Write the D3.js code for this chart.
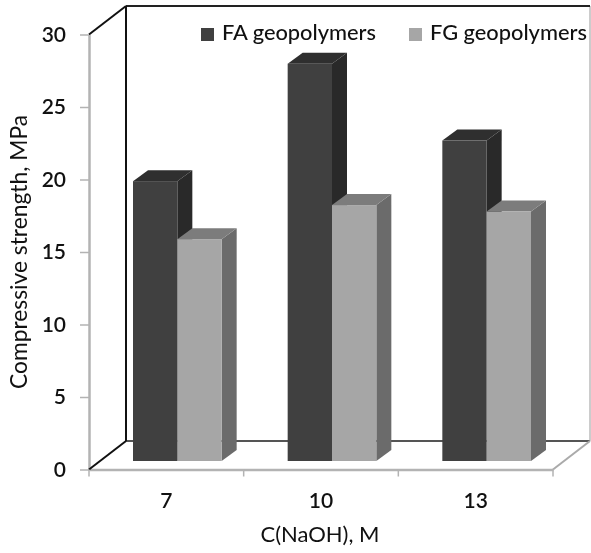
<!DOCTYPE html>
<html>
<head>
<meta charset="utf-8">
<script src="https://cdn.jsdelivr.net/npm/d3@7"></script>
<style>
  html, body { margin: 0; padding: 0; background: #fff; }
  svg { display: block; filter: blur(0.4px); }
  text { font-family: Lato, "Open Sans", sans-serif; fill: #111; }
</style>
</head>
<body>
<div id="chart"></div>
<script>
var categories = ["7", "10", "13"];
var seriesNames = ["FA geopolymers", "FG geopolymers"];
var faValues = [19.3, 27.4, 22.1];
var fgValues = [15.3, 17.65, 17.2];
var yTicks = [0, 5, 10, 15, 20, 25, 30];

var width = 591, height = 553;
var plotLeft = 89, plotRight = 553, plotTop = 34.5, plotBottom = 469.5;
var wallX = 37, wallY = 28.5;   // depth of the whole box
var barDx = 15, barDy = 11;     // depth of one bar
var baseDx = 11, baseDy = 8.5;  // bars stand a bit behind the front edge

var colors = [
  {front: "#404040", top: "#2f2f2f", side: "#292929"},
  {front: "#a6a6a6", top: "#7c7c7c", side: "#6b6b6b"}
];

var svg = d3.select("#chart").append("svg")
    .attr("width", width)
    .attr("height", height);

var x = d3.scaleBand().domain(categories).range([plotLeft, plotRight]);
var xInner = d3.scaleBand().domain(seriesNames)
    .range([33, x.bandwidth() - 33]);
var y = d3.scaleLinear().domain([0, 30]).range([plotBottom, plotTop]);

// back wall and floor
var wall = svg.append("g").attr("fill", "none");
wall.append("line").attr("x1", plotLeft + wallX).attr("x2", plotRight + wallX)
    .attr("y1", plotBottom - wallY).attr("y2", plotBottom - wallY)
    .attr("stroke", "#555").attr("stroke-width", 2);
wall.append("line").attr("x1", plotRight + wallX).attr("x2", plotRight + wallX)
    .attr("y1", plotTop - wallY).attr("y2", plotBottom - wallY)
    .attr("stroke", "#999").attr("stroke-width", 1);
wall.append("line").attr("x1", plotLeft + wallX).attr("x2", plotRight + wallX)
    .attr("y1", plotTop - wallY).attr("y2", plotTop - wallY)
    .attr("stroke", "#222").attr("stroke-width", 2);
wall.append("line").attr("x1", plotLeft + wallX).attr("x2", plotLeft + wallX)
    .attr("y1", plotTop - wallY).attr("y2", plotBottom - wallY)
    .attr("stroke", "#111").attr("stroke-width", 2);
wall.append("line").attr("x1", plotLeft).attr("x2", plotLeft + wallX)
    .attr("y1", plotTop).attr("y2", plotTop - wallY)
    .attr("stroke", "#111").attr("stroke-width", 2);
wall.append("line").attr("x1", plotRight).attr("x2", plotRight + wallX)
    .attr("y1", plotBottom).attr("y2", plotBottom - wallY)
    .attr("stroke", "#aaa").attr("stroke-width", 2);

// axes
var yAxis = svg.append("g")
    .attr("transform", "translate(" + plotLeft + ",0)")
    .call(d3.axisLeft(y).tickValues(yTicks).tickSize(9).tickPadding(14).tickSizeOuter(0));
var xAxis = svg.append("g")
    .attr("transform", "translate(0," + plotBottom + ")")
    .call(d3.axisBottom(x).tickSize(0).tickPadding(24));
[yAxis, xAxis].forEach(function(a) {
  a.selectAll(".domain").attr("stroke", "#b3b3b3").attr("stroke-width", 2.5);
  a.selectAll(".tick line").attr("stroke", "#b3b3b3").attr("stroke-width", 1.5);
  a.selectAll(".tick text").attr("font-size", 21).attr("font-weight", 600)
      .style("font-family", "Lato").attr("fill", "#111");
});

// the black floor edge runs over the grey axes
svg.append("line").attr("x1", plotLeft).attr("x2", plotLeft + wallX)
    .attr("y1", plotBottom).attr("y2", plotBottom - wallY)
    .attr("stroke", "#111").attr("stroke-width", 2);

// x ticks sit on the band edges, not the centres
svg.append("g").selectAll("line")
    .data(d3.range(categories.length + 1))
    .enter().append("line")
    .attr("x1", function(i) { return plotLeft + i * x.step(); })
    .attr("x2", function(i) { return plotLeft + i * x.step(); })
    .attr("y1", plotBottom)
    .attr("y2", plotBottom + 7)
    .attr("stroke", "#b3b3b3").attr("stroke-width", 1.5);

// bars, each drawn as front + top + side
var baseY = y(0) - baseDy;
function barTop(v) { return baseY - (y(0) - y(v)); }

var bars = [];
categories.forEach(function(c, i) {
  bars.push({cat: c, s: 0, value: faValues[i]});
  bars.push({cat: c, s: 1, value: fgValues[i]});
});

var bar = svg.append("g").selectAll("g")
    .data(bars)
    .enter().append("g")
    .attr("transform", function(d) {
      return "translate(" + (x(d.cat) + xInner(seriesNames[d.s]) + baseDx) + ",0)";
    });

var w = xInner.bandwidth();

bar.append("path")
    .attr("fill", function(d) { return colors[d.s].side; })
    .attr("d", function(d) {
      var t = barTop(d.value);
      return "M" + w + "," + t + "L" + (w + barDx) + "," + (t - barDy) +
        "L" + (w + barDx) + "," + (baseY - barDy) + "L" + w + "," + baseY + "Z";
    });
bar.append("path")
    .attr("fill", function(d) { return colors[d.s].top; })
    .attr("d", function(d) {
      var t = barTop(d.value);
      return "M0," + t + "L" + barDx + "," + (t - barDy) +
        "L" + (w + barDx) + "," + (t - barDy) + "L" + w + "," + t + "Z";
    });
bar.append("rect")
    .attr("fill", function(d) { return colors[d.s].front; })
    .attr("x", 0)
    .attr("y", function(d) { return barTop(d.value); })
    .attr("width", w)
    .attr("height", function(d) { return baseY - barTop(d.value); });

// legend
var legendX = [201, 409];
var legend = svg.append("g").selectAll("g")
    .data(seriesNames)
    .enter().append("g")
    .attr("transform", function(d, i) { return "translate(" + legendX[i] + ",28)"; });
legend.append("rect")
    .attr("width", 13).attr("height", 13)
    .attr("fill", function(d, i) { return colors[i].front; });
legend.append("text")
    .attr("x", 21).attr("y", 12)
    .attr("font-size", 21.8)
    .attr("font-weight", 500)
    .text(function(d) { return d; });

// axis titles
svg.append("text")
    .attr("x", 320).attr("y", 542)
    .attr("text-anchor", "middle")
    .attr("font-size", 22)
    .text("C(NaOH), M");
svg.append("text")
    .attr("transform", "translate(27,252) rotate(-90)")
    .attr("text-anchor", "middle")
    .attr("font-size", 22.8)
    .text("Compressive strength, MPa");
</script>
</body>
</html>
